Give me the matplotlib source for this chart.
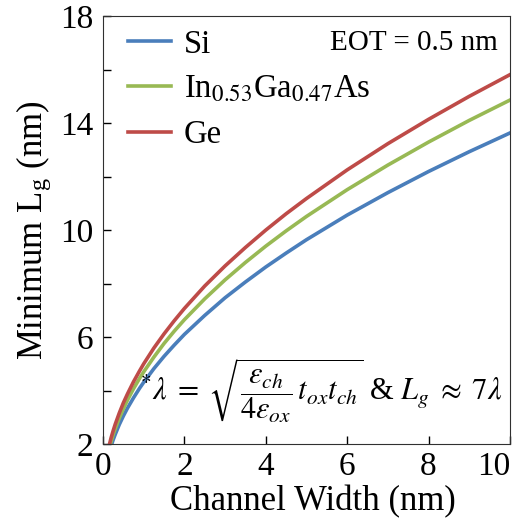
import matplotlib.pyplot as plt

plt.rcParams['font.family'] = ['Liberation Serif', 'DejaVu Serif']
plt.rcParams['mathtext.fontset'] = 'stix'

# valores
largura = [0.15, 0.2, 0.25, 0.3, 0.4, 0.5, 0.6, 0.75, 0.9, 1, 1.25, 1.5, 1.75, 2,
           2.5, 3, 3.5, 4, 4.5, 5, 6, 7, 8, 9, 10]
lg_si = [1.67, 1.93, 2.16, 2.36, 2.73, 3.05, 3.34, 3.73, 4.09, 4.31, 4.82, 5.28, 5.70, 6.10,
         6.81, 7.47, 8.06, 8.62, 9.14, 9.64, 10.56, 11.40, 12.19, 12.93, 13.63]
lg_ingaas = [1.82, 2.10, 2.35, 2.57, 2.97, 3.32, 3.64, 4.07, 4.46, 4.70, 5.25, 5.76, 6.22, 6.65,
             7.43, 8.14, 8.79, 9.40, 9.97, 10.51, 11.51, 12.43, 13.29, 14.10, 14.86]
lg_ge = [1.94, 2.24, 2.50, 2.74, 3.16, 3.54, 3.87, 4.33, 4.74, 5.00, 5.59, 6.12, 6.61, 7.07,
         7.91, 8.66, 9.35, 10.00, 10.61, 11.18, 12.25, 13.23, 14.14, 15.00, 15.81]

fig = plt.figure(figsize=(5.14, 5.2), dpi=100)
ax = fig.add_axes([0.2004, 0.146, 0.7916, 0.823])

ax.plot(largura, lg_si, color='#4A7EBB', lw=2.6, label='Si')
ax.plot(largura, lg_ingaas, color='#98B954', lw=2.6, label=r'In$_{0.53}$Ga$_{0.47}$As')
ax.plot(largura, lg_ge, color='#BE4B48', lw=2.6, label='Ge')

ax.set_xlim(0, 10)
ax.set_ylim(2, 18)
ax.set_xticks([0, 2, 4, 6, 8, 10])
ax.set_yticks([2, 4, 6, 8, 10, 12, 14, 16, 18])
ax.set_yticklabels(['2', '', '6', '', '10', '', '14', '', '18'])
ax.tick_params(direction='in', length=6, width=1, labelsize=24)
ax.tick_params(axis='y', pad=7)
ax.tick_params(axis='x', pad=5)
ax.get_xticklabels()[-1].set_horizontalalignment('right')
for s in ax.spines.values():
    s.set_color('#303030')

ax.set_xlabel('Channel Width (nm)', fontsize=25, labelpad=0)
ax.xaxis.set_label_coords(0.517, -0.095)
ax.set_ylabel(r'Minimum L$_\mathregular{g}$ (nm)', fontsize=25, labelpad=4)

ax.legend(loc='upper left', frameon=False, fontsize=23.5, handlelength=1.3,
          handletextpad=0.4, labelspacing=0.45, borderaxespad=0.0,
          bbox_to_anchor=(0.03, 1.0))

ax.text(0.97, 0.937, 'EOT = 0.5 nm', transform=ax.transAxes, fontsize=21,
        ha='right', va='center')
ax.text(0.09, 0.125,
        r'$^{*}\lambda\;=\;\sqrt{\dfrac{\varepsilon_{ch}}{4\varepsilon_{ox}}\,t_{ox}t_{ch}}$ & $L_g\;\approx\;7\lambda$',
        transform=ax.transAxes, fontsize=22, ha='left', va='center')

fig.savefig('out.png', dpi=100)
